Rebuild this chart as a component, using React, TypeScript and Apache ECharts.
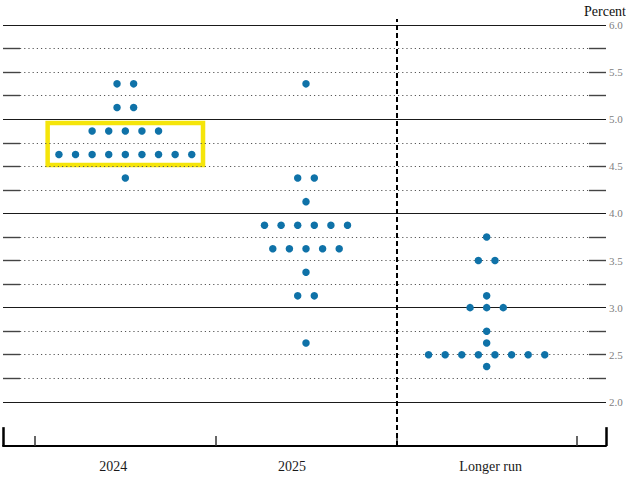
import React, { useEffect, useRef } from 'react';
import * as echarts from 'echarts';

// ---- data ----
const categories = ['2024', '2025', 'Longer run'];

// midpoint of target range -> number of participants
const rates2024 = [5.375, 5.125, 4.875, 4.625, 4.375];
const counts2024 = [2, 2, 5, 9, 1];

const rates2025 = [5.375, 4.375, 4.125, 3.875, 3.625, 3.375, 3.125, 2.625];
const counts2025 = [1, 2, 1, 6, 5, 1, 2, 1];

const ratesLongerRun = [3.75, 3.5, 3.125, 3.0, 2.75, 2.625, 2.5, 2.375];
const countsLongerRun = [1, 2, 1, 3, 1, 1, 8, 1];

// horizontal reference lines (percent)
const gridLineValues = [
  2.0, 2.25, 2.5, 2.75, 3.0, 3.25, 3.5, 3.75, 4.0, 4.25, 4.5, 4.75, 5.0, 5.25, 5.5, 5.75, 6.0,
];
const yTickLabels = ['2.0', '2.5', '3.0', '3.5', '4.0', '4.5', '5.0', '5.5', '6.0'];
const unitLabel = 'Percent';

// highlighted group (2024, two middle rows)
const highlightCategory = 0;
const highlightHalfWidth = 0.43;
const highlightLow = 4.515;
const highlightHigh = 4.96;

// ---- layout constants ----
const X_MIN = -0.6771;
const X_MAX = 2.6605;
const EDGE = 0.094;
const DOT_STEP = 0.0919;
const Y_MIN = 1.53125;
const Y_MAX = 6.0625;
const Y_STEP = 0.03125;
const DIVIDER = 1.5;
const SERIF = 'Liberation Serif, DejaVu Serif, serif';
// horizontal nudge of each category label (px; negative = left)
const LABEL_SHIFT = [-12, -14, 4];

function buildDots(catIndex: number, rates: number[], counts: number[]) {
  const pts: number[][] = [];
  rates.forEach((r, j) => {
    const n = counts[j];
    for (let k = 0; k < n; k++) {
      pts.push([catIndex + (k - (n - 1) / 2) * DOT_STEP, r]);
    }
  });
  return pts;
}

export default function App() {
  const ref = useRef<HTMLDivElement>(null);

  useEffect(() => {
    document.body.style.margin = '0';
    if (!ref.current) return;
    const chart = echarts.init(ref.current, undefined, { renderer: 'svg' });

    const dots = [
      ...buildDots(0, rates2024, counts2024),
      ...buildDots(1, rates2025, counts2025),
      ...buildDots(2, ratesLongerRun, countsLongerRun),
    ];

    const solidStyle = { color: '#1a1a1a', width: 1, type: 'solid' as const };
    const edgeStyle = { color: '#444', width: 1.4, type: 'solid' as const };
    const dotStyle = { color: '#555', width: 1, type: [1.2, 3] as any };

    const lines: any[] = [];
    gridLineValues.forEach((v) => {
      if (Math.abs(v - Math.round(v)) < 1e-9) {
        lines.push([{ coord: [X_MIN, v], lineStyle: solidStyle }, { coord: [X_MAX, v] }]);
      } else {
        lines.push([{ coord: [X_MIN, v], lineStyle: edgeStyle }, { coord: [X_MIN + EDGE, v] }]);
        lines.push([{ coord: [X_MIN + EDGE, v], lineStyle: dotStyle }, { coord: [X_MAX - EDGE, v] }]);
        lines.push([{ coord: [X_MAX - EDGE, v], lineStyle: edgeStyle }, { coord: [X_MAX, v] }]);
      }
    });
    // divider before "Longer run"
    lines.push([
      { coord: [DIVIDER, Y_MIN], lineStyle: { color: '#000', width: 2, type: [5, 3] } },
      { coord: [DIVIDER, Y_MAX] },
    ]);
    // tall edge ticks
    lines.push([{ coord: [X_MIN, Y_MIN], lineStyle: { color: '#000', width: 2.5, type: 'solid' } }, { coord: [X_MIN, Y_MIN + 0.2] }]);
    lines.push([{ coord: [X_MAX, Y_MIN], lineStyle: { color: '#000', width: 2.5, type: 'solid' } }, { coord: [X_MAX, Y_MIN + 0.2] }]);

    const rich: any = {};
    LABEL_SHIFT.forEach((s, i) => {
      rich['c' + i] = {
        fontSize: 14,
        fontFamily: SERIF,
        color: '#1a1a1a',
        padding: s < 0 ? [0, -2 * s, 0, 0] : [0, 0, 0, 2 * s],
      };
    });

    const option: any = {
      animation: false,
      title: {
        text: unitLabel,
        left: 584,
        top: 4,
        padding: 0,
        textStyle: { color: '#111', fontSize: 14, fontWeight: 'normal', fontFamily: SERIF },
      },
      grid: [
        { left: 3, right: 20, top: 19.1, bottom: 36 },
        { left: 35, right: 49, top: 19.1, bottom: 36 },
      ],
      xAxis: [
        {
          type: 'value',
          gridIndex: 0,
          min: X_MIN,
          max: X_MAX,
          splitLine: { show: false },
          axisTick: { show: false },
          axisLabel: { show: false },
          axisLine: { show: true, onZero: false, lineStyle: { color: '#000', width: 2 } },
        },
        {
          type: 'category',
          gridIndex: 1,
          data: categories,
          boundaryGap: true,
          axisLine: { show: false },
          axisTick: { show: true, inside: true, length: 10, lineStyle: { color: '#333', width: 1.5 } },
          axisLabel: {
            margin: 13,
            color: '#1a1a1a',
            fontSize: 14,
            fontFamily: SERIF,
            formatter: (v: string, i: number) => `{c${i}|${v}}`,
            rich,
          },
          splitLine: { show: false },
        },
      ],
      yAxis: [
        {
          type: 'value',
          gridIndex: 0,
          position: 'right',
          min: Y_MIN,
          max: Y_MAX,
          interval: Y_STEP,
          splitLine: { show: false },
          axisTick: { show: false },
          axisLine: { show: false },
          axisLabel: {
            margin: 3,
            color: '#808080',
            fontSize: 11,
            fontFamily: SERIF,
            formatter: (v: number) => {
              const s = v.toFixed(1);
              return Math.abs(v * 2 - Math.round(v * 2)) < 1e-9 && yTickLabels.includes(s) ? s : '';
            },
          },
        },
        { type: 'value', gridIndex: 1, show: false, min: 0, max: 1 },
      ],
      series: [
        {
          type: 'scatter',
          xAxisIndex: 0,
          yAxisIndex: 0,
          data: [],
          z: 1,
          silent: true,
          clip: false,
          markLine: {
            silent: true,
            symbol: ['none', 'none'],
            label: { show: false },
            emphasis: { disabled: true },
            data: lines,
          },
          markArea: {
            silent: true,
            label: { show: false },
            itemStyle: { color: 'rgba(0,0,0,0)', borderColor: '#f5e50a', borderWidth: 4.5 },
            emphasis: { disabled: true },
            data: [
              [
                { coord: [highlightCategory - highlightHalfWidth, highlightLow] },
                { coord: [highlightCategory + highlightHalfWidth, highlightHigh] },
              ],
            ],
          },
        },
        {
          type: 'scatter',
          xAxisIndex: 0,
          yAxisIndex: 0,
          data: dots,
          z: 5,
          symbol: 'circle',
          symbolSize: 7.5,
          clip: false,
          itemStyle: { color: '#0f72a8', opacity: 1 },
          emphasis: { disabled: true },
          silent: true,
        },
      ],
    };

    chart.setOption(option);
    return () => chart.dispose();
  }, []);

  return <div ref={ref} style={{ width: 626, height: 482 }} />;
}
